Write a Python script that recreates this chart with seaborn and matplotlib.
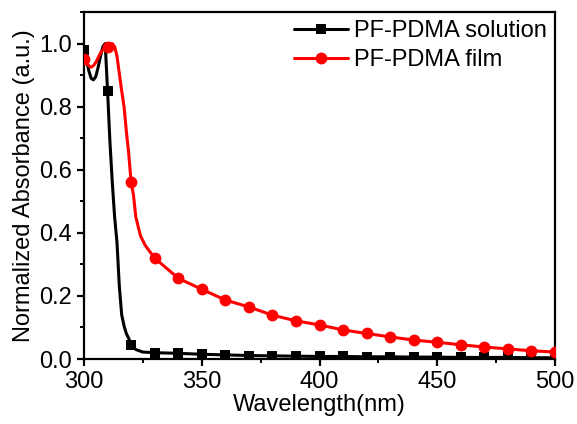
import numpy as np
import pandas as pd
import matplotlib
matplotlib.use("Agg")
import matplotlib.pyplot as plt
import seaborn as sns
from matplotlib.ticker import MultipleLocator

# 1. DATA
sol_wl = [300, 301, 302, 303, 304, 305, 306, 307, 308, 309, 310, 311, 312, 313,
          314, 315, 316, 317, 318, 319, 320, 322, 325, 330, 340, 350, 360, 370,
          380, 390, 400, 410, 420, 430, 440, 450, 460, 470, 480, 490, 500]
sol_abs = [0.98, 0.95, 0.915, 0.89, 0.885, 0.895, 0.925, 0.96, 0.99, 1.0, 0.85,
           0.69, 0.56, 0.45, 0.37, 0.23, 0.14, 0.105, 0.08, 0.065, 0.045, 0.03,
           0.022, 0.02, 0.018, 0.015, 0.013, 0.011, 0.01, 0.009, 0.008, 0.008,
           0.007, 0.007, 0.006, 0.006, 0.005, 0.005, 0.005, 0.004, 0.004]

film_wl = [300, 301, 302, 303, 304, 305, 306, 307, 308, 309, 310, 311, 312, 313,
           314, 315, 316, 317, 318, 319, 320, 321, 322, 324, 326, 330, 340, 350,
           360, 370, 380, 390, 400, 410, 420, 430, 440, 450, 460, 470, 480, 490, 500]
film_abs = [0.95, 0.94, 0.93, 0.925, 0.93, 0.94, 0.955, 0.97, 0.98, 0.985, 0.99,
            0.995, 1.0, 0.99, 0.96, 0.905, 0.85, 0.80, 0.72, 0.65, 0.56, 0.52,
            0.45, 0.39, 0.36, 0.32, 0.256, 0.221, 0.187, 0.165, 0.139, 0.121,
            0.108, 0.092, 0.081, 0.070, 0.060, 0.053, 0.045, 0.038, 0.032,
            0.026, 0.022]

labels = ["PF-PDMA solution", "PF-PDMA film"]

# 2. STYLE
sns.set_style("ticks")
plt.rcParams['font.family'] = ['Liberation Sans', 'DejaVu Sans']
plt.rcParams['axes.linewidth'] = 1.6
for key in ['text.color', 'axes.labelcolor', 'xtick.color', 'ytick.color',
            'axes.edgecolor']:
    plt.rcParams[key] = 'black'

fig = plt.figure(figsize=(5.77, 4.24), dpi=100)
ax = fig.add_axes([0.1456, 0.1533, 0.8163, 0.8184])

# 3. PLOT
sol = pd.DataFrame({"wl": sol_wl, "abs": sol_abs})
film = pd.DataFrame({"wl": film_wl, "abs": film_abs})
sol_marks = [i for i, w in enumerate(sol_wl) if w % 10 == 0]
film_marks = [i for i, w in enumerate(film_wl) if w % 10 == 0]

sns.lineplot(data=sol, x="wl", y="abs", ax=ax, color="black", lw=2.2,
             marker="s", markersize=6.5, markeredgewidth=0, markevery=sol_marks,
             label=labels[0], zorder=3)
sns.lineplot(data=film, x="wl", y="abs", ax=ax, color="#ff0000", lw=2.2,
             marker="o", markersize=8.5, markeredgewidth=0, markevery=film_marks,
             label=labels[1], zorder=4)

# 4. AXES
ax.set_xlim(300, 500)
ax.set_ylim(0, 1.1)
ax.xaxis.set_major_locator(MultipleLocator(50))
ax.xaxis.set_minor_locator(MultipleLocator(25))
ax.yaxis.set_major_locator(MultipleLocator(0.2))
ax.yaxis.set_minor_locator(MultipleLocator(0.1))
ax.yaxis.set_major_formatter(plt.FormatStrFormatter('%.1f'))
ax.tick_params(which='major', direction='out', length=5, width=1.6, labelsize=17,
               colors='black')
ax.tick_params(which='minor', direction='out', length=3, width=1.4, colors='black')
for s in ax.spines.values():
    s.set_visible(True)
    s.set_color("black")

ax.set_xlabel("Wavelength(nm)", fontsize=17, labelpad=1, color='black')
ax.set_ylabel("Normalized Absorbance (a.u.)", fontsize=17, labelpad=3, color='black')

leg = ax.legend(loc='upper right', frameon=False, fontsize=17, handlelength=2.3,
                handletextpad=0.25, labelspacing=0.3, borderaxespad=0.2,
                borderpad=0.15)
for t in leg.get_texts():
    t.set_color('black')

fig.savefig("out.png", dpi=100)
